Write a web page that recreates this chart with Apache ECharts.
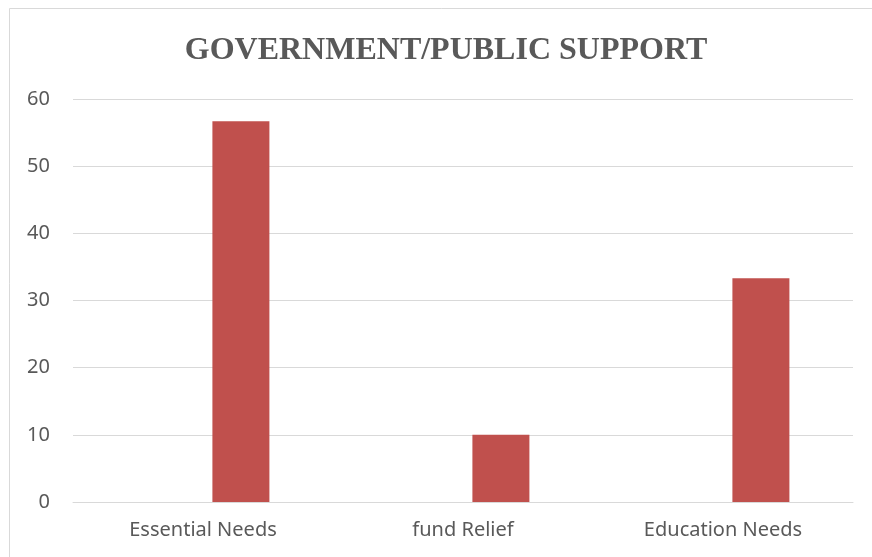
<!DOCTYPE html>
<html>
<head>
<meta charset="utf-8">
<script src="https://cdn.jsdelivr.net/npm/echarts@6/dist/echarts.min.js"></script>
<style>
  html, body { margin: 0; padding: 0; background: #fff; }
  #chart { width: 872px; height: 557px; }
</style>
</head>
<body>
<div id="chart"></div>
<script>
// data
var categories = ['Essential Needs', 'fund Relief', 'Education Needs'];
var blankSeries = [null, null, null]; // empty first series, keeps the bars off centre
var supportValues = [56.67, 10, 33.33];
var yTicks = { min: 0, max: 60, step: 10 };

var chart = echarts.init(document.getElementById('chart'), null, { renderer: 'canvas' });

var option = {
    backgroundColor: '#fff',
    animation: false,
    title: {
        text: 'GOVERNMENT/PUBLIC SUPPORT',
        left: 441,
        textAlign: 'center',
        top: 30,
        textStyle: {
            fontFamily: 'Liberation Serif',
            fontWeight: 'bold',
            fontSize: 32,
            color: '#595959'
        }
    },
    graphic: [{
        type: 'rect',
        shape: { x: 9.5, y: 8.5, width: 900, height: 600 },
        style: { fill: 'none', stroke: '#d9d9d9', lineWidth: 1 },
        silent: true,
        z: -1
    }],
    grid: {
        left: 73,
        right: 19,
        top: 99,
        bottom: 55,
        containLabel: false
    },
    xAxis: {
        type: 'category',
        data: categories,
        axisLine: { show: true, lineStyle: { color: '#d9d9d9', width: 1 } },
        axisTick: { show: false },
        axisLabel: {
            fontFamily: 'Noto Sans',
            fontSize: 20,
            color: '#595959',
            margin: 18
        }
    },
    yAxis: {
        type: 'value',
        min: yTicks.min,
        max: yTicks.max,
        interval: yTicks.step,
        axisLine: { show: false },
        axisTick: { show: false },
        splitLine: { lineStyle: { color: '#d9d9d9', width: 1 } },
        axisLabel: {
            fontFamily: 'Noto Sans',
            fontSize: 20,
            color: '#595959',
            margin: 23
        }
    },
    series: [
        {
            name: 'blank',
            type: 'bar',
            data: blankSeries,
            barWidth: 57,
            barGap: '33%',
            itemStyle: { color: '#4f81bd' }
        },
        {
            name: 'Support',
            type: 'bar',
            data: supportValues,
            barWidth: 57,
            barGap: '33%',
            itemStyle: { color: '#c0504d' }
        }
    ]
};

chart.setOption(option);
</script>
</body>
</html>
